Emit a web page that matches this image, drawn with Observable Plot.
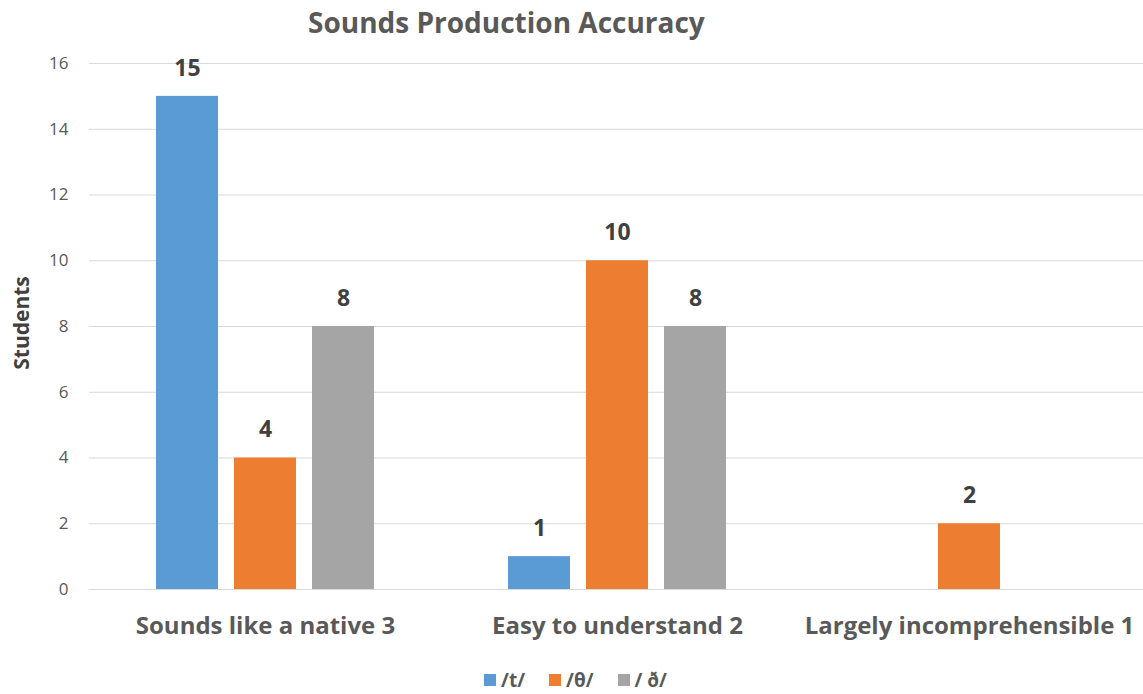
<!DOCTYPE html>
<html>
<head>
<meta charset="utf-8">
<script src="https://cdn.jsdelivr.net/npm/d3@7"></script>
<script src="https://cdn.jsdelivr.net/npm/@observablehq/plot@0.6"></script>
<style>
  body { margin: 0; background: #fff; font-family: "Open Sans", sans-serif; }
  #wrap { width: 1143px; height: 694px; position: relative; overflow: hidden; }
  #title { height: 40px; line-height: 44px; font-weight: bold; font-size: 28px; color: #595959; padding-left: 308px; white-space: nowrap; }
  #legend { display: flex; justify-content: center; gap: 24px; font-size: 19px; color: #595959; font-weight: bold; margin-top: 18px; padding-left: 8px; }
  .li { display: flex; align-items: center; gap: 5px; }
  .sw { width: 12px; height: 12px; display: inline-block; }
</style>
</head>
<body>
<div id="wrap">
  <div id="title">Sounds Production Accuracy</div>
  <div id="chart"></div>
  <div id="legend"></div>
</div>
<script>
const categories = ["Sounds like a native 3", "Easy to understand 2", "Largely incomprehensible 1"];
const seriesNames = ["/t/", "/θ/", "/ ð/"];
const seriesColors = ["#5B9BD5", "#ED7D31", "#A5A5A5"];
const valuesT = [15, 1, null];
const valuesTheta = [4, 10, 2];
const valuesEth = [8, 8, null];
const yTicks = [0, 2, 4, 6, 8, 10, 12, 14, 16];

const seriesValues = [valuesT, valuesTheta, valuesEth];
const data = [];
categories.forEach((c, i) => {
  seriesNames.forEach((s, j) => {
    const v = seriesValues[j][i];
    if (v != null) data.push({category: c, series: s, value: v});
  });
});

const chart = Plot.plot({
  width: 1143,
  height: 609,
  marginLeft: 88,
  marginRight: -2,
  marginTop: 23,
  marginBottom: 60,
  style: {fontFamily: "'Open Sans', sans-serif", background: "#fff"},
  fx: {domain: categories, paddingInner: 0, paddingOuter: 0, label: null},
  x: {domain: seriesNames, paddingInner: 0.205, paddingOuter: 0.85, axis: null},
  y: {domain: [0, 16], ticks: yTicks, label: null},
  color: {domain: seriesNames, range: seriesColors},
  marks: [
    Plot.gridY(yTicks, {stroke: "#d9d9d9", strokeOpacity: 1}),
    Plot.axisY(yTicks, {tickSize: 0, tickPadding: 21, fontSize: 17, fill: "#595959", label: null, textAnchor: "end"}),
    Plot.axisFx({anchor: "bottom", tickSize: 0, tickPadding: 27, fontSize: 24, fontWeight: "bold", fill: "#595959", label: null}),
    Plot.barY(data, {fx: "category", x: "series", y: "value", fill: "series"}),
    Plot.text(data, {fx: "category", x: "series", y: "value", text: d => String(d.value), dy: -28, fontSize: 23, fontWeight: "bold", fill: "#404040"})
  ]
});
document.getElementById("chart").appendChild(chart);

// y-axis title
const svg = d3.select(chart);
svg.append("text")
  .attr("transform", "translate(21,283) rotate(-90)")
  .attr("text-anchor", "middle")
  .attr("dominant-baseline", "central")
  .attr("font-size", 21)
  .attr("font-weight", "bold")
  .attr("fill", "#404040")
  .attr("font-family", "'Open Sans', sans-serif")
  .text("Students");

const legend = document.getElementById("legend");
seriesNames.forEach((s, i) => {
  const item = document.createElement("span");
  item.className = "li";
  item.innerHTML = `<span class="sw" style="background:${seriesColors[i]}"></span><span>${s}</span>`;
  legend.appendChild(item);
});
</script>
</body>
</html>
